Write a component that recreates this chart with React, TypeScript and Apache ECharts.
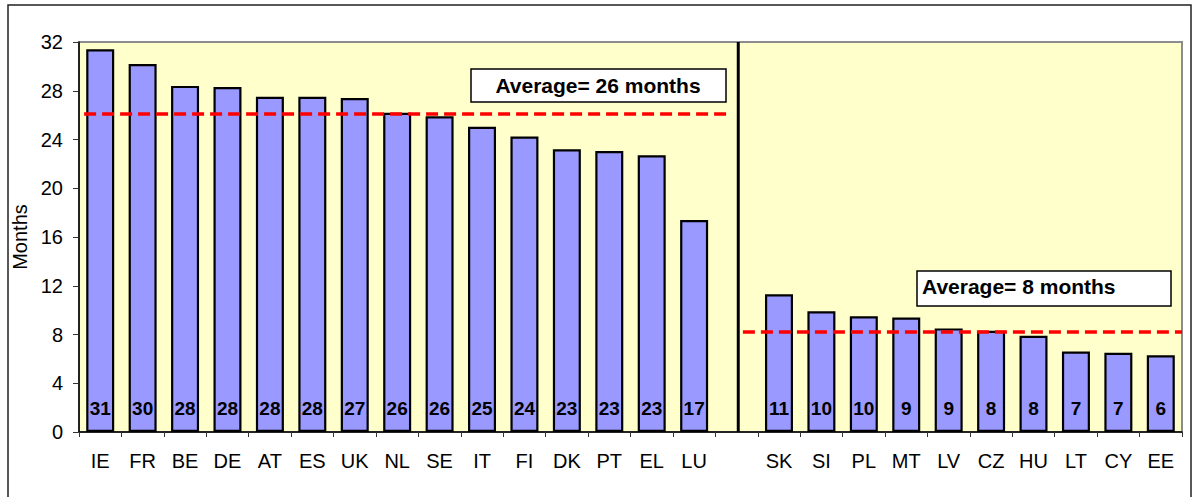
import React, { useEffect, useRef } from "react";
import * as echarts from "echarts";

const categories = [
  "IE", "FR", "BE", "DE", "AT", "ES", "UK", "NL", "SE", "IT", "FI", "DK", "PT", "EL", "LU",
  "",
  "SK", "SI", "PL", "MT", "LV", "CZ", "HU", "LT", "CY", "EE",
];
const months = [
  31.4, 30.2, 28.4, 28.3, 27.5, 27.5, 27.4, 26.2, 25.9, 25.05, 24.25, 23.2, 23.05, 22.7, 17.4,
  null,
  11.3, 9.9, 9.5, 9.4, 8.5, 8.3, 7.9, 6.6, 6.5, 6.3,
];
const yTicks = { min: 0, max: 32, interval: 4 };
// averages: [position, value] on a 0..26 position scale
const avgLeft = [[0.12, 26.1], [15.35, 26.1]];
const avgRight = [[15.65, 8.2], [26, 8.2]];
const divider = [[15.54, 0], [15.54, 32]];
const avgTexts = ["Average= 26 months", "Average= 8 months"];

const FONT = "'Liberation Sans', Arial, Helvetica, sans-serif";

export default function App() {
  const ref = useRef<HTMLDivElement>(null);
  useEffect(() => {
    if (!ref.current) return;
    const chart = echarts.init(ref.current, null, { renderer: "svg" });
    chart.setOption({
      animation: false,
      backgroundColor: "#ffffff",
      textStyle: { fontFamily: FONT },
      grid: {
        left: 79,
        right: 16,
        top: 42,
        bottom: 65,
        show: true,
        backgroundColor: "#FFFFCC",
        borderColor: "#8c8c8c",
        borderWidth: 2,
      },
      xAxis: [
        {
          type: "category",
          data: categories,
          boundaryGap: true,
          axisLine: { lineStyle: { color: "#000", width: 1.5 } },
          axisTick: { show: true, interval: 0, length: 5, lineStyle: { color: "#333" } },
          axisLabel: { interval: 0, color: "#000", fontSize: 20, margin: 19, fontFamily: FONT },
          splitLine: { show: false },
        },
        {
          type: "value",
          min: 0,
          max: 26,
          show: false,
          splitLine: { show: false },
        },
      ],
      yAxis: {
        type: "value",
        min: yTicks.min,
        max: yTicks.max,
        interval: yTicks.interval,
        name: "Months",
        nameLocation: "middle",
        nameGap: 45,
        nameTextStyle: { fontSize: 20, color: "#000", fontFamily: FONT },
        axisLine: { show: true, lineStyle: { color: "#000", width: 1.5 } },
        axisTick: { show: true, length: 6, lineStyle: { color: "#333" } },
        axisLabel: { color: "#000", fontSize: 20, margin: 16, fontFamily: FONT },
        splitLine: { show: false },
      },
      series: [
        {
          type: "bar",
          data: months,
          barWidth: 28,
          itemStyle: { color: "#9999FF", borderColor: "#000", borderWidth: 2.2 },
          label: {
            show: true,
            position: "insideBottom",
            distance: 14,
            color: "#000",
            fontWeight: "bold",
            fontSize: 19,
            fontFamily: FONT,
            formatter: (p: any) => String(Math.round(p.value)),
          },
          z: 2,
        },
        {
          type: "line",
          xAxisIndex: 1,
          data: avgLeft,
          symbol: "none",
          lineStyle: { color: "#FF0000", width: 3.5, type: [12, 6] },
          z: 5,
        },
        {
          type: "line",
          xAxisIndex: 1,
          data: avgRight,
          symbol: "none",
          lineStyle: { color: "#FF0000", width: 3.5, type: [12, 6] },
          z: 5,
        },
        {
          type: "line",
          xAxisIndex: 1,
          data: divider,
          symbol: "none",
          lineStyle: { color: "#000", width: 3 },
          z: 4,
        },
      ],
      graphic: [
        {
          type: "rect",
          shape: { x: 8, y: 5, width: 1183, height: 520 },
          style: { fill: "none", stroke: "#222", lineWidth: 1.5 },
          silent: true,
        },
        {
          type: "rect",
          shape: { x: 471, y: 69, width: 255, height: 33 },
          style: { fill: "#fff", stroke: "#000", lineWidth: 1.5 },
          z: 10,
        },
        {
          type: "text",
          x: 598,
          y: 85,
          style: {
            text: avgTexts[0],
            font: `bold 21px ${FONT}`,
            fill: "#000",
            textAlign: "center",
            textVerticalAlign: "middle",
          },
          z: 11,
        },
        {
          type: "rect",
          shape: { x: 917, y: 271, width: 254, height: 35 },
          style: { fill: "#fff", stroke: "#000", lineWidth: 1.5 },
          z: 10,
        },
        {
          type: "text",
          x: 922,
          y: 286,
          style: {
            text: avgTexts[1],
            font: `bold 21px ${FONT}`,
            fill: "#000",
            textAlign: "left",
            textVerticalAlign: "middle",
          },
          z: 11,
        },
      ],
    });
    return () => chart.dispose();
  }, []);
  return (
    <div
      ref={ref}
      style={{ position: "fixed", left: 0, top: 0, width: 1198, height: 497 }}
    />
  );
}
